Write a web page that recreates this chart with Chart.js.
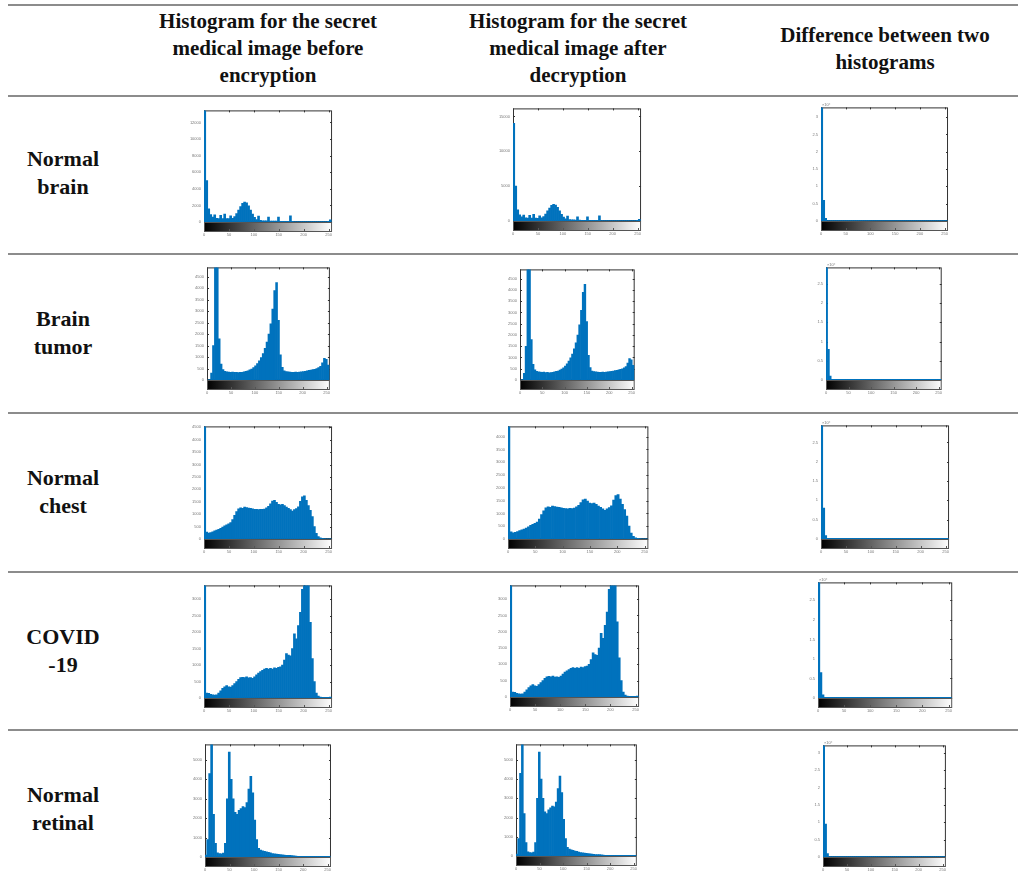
<!DOCTYPE html>
<html>
<head>
<meta charset="utf-8">
<script src="https://cdn.jsdelivr.net/npm/chart.js@4.4.0/dist/chart.umd.min.js"></script>
<style>
  html, body { margin: 0; padding: 0; background: #fff; }
  body { width: 1018px; height: 886px; position: relative; overflow: hidden;
         font-family: "Liberation Serif", "Times New Roman", serif; color: #111; }
  .rule { position: absolute; left: 8px; width: 1010px; height: 2px; background: #8c8c8c; }
  .head { position: absolute; width: 300px; text-align: center; font-weight: bold;
          font-size: 21px; line-height: 27px; }
  .rowlab { position: absolute; left: 0; width: 126px; text-align: center; font-weight: bold;
            font-size: 22px; line-height: 28px; }
  .cell { position: absolute; }
</style>
</head>
<body>

<div class="rule" style="top:4px"></div>
<div class="rule" style="top:95px"></div>
<div class="rule" style="top:253px"></div>
<div class="rule" style="top:412px"></div>
<div class="rule" style="top:571px"></div>
<div class="rule" style="top:729px"></div>

<div class="head" style="left:118px; top:8px">Histogram for the secret<br>medical image before<br>encryption</div>
<div class="head" style="left:428px; top:8px">Histogram for the secret<br>medical image after<br>decryption</div>
<div class="head" style="left:735px; top:22px">Difference between two<br>histograms</div>

<div id="charts"></div>

<script>
// bin start values (4 grey levels per bin)
const binStart = [0,4,8,12,16,20,24,28,32,36,40,44,48,52,56,60,64,68,72,76,80,84,88,92,96,100,104,108,112,116,120,124,
  128,132,136,140,144,148,152,156,160,164,168,172,176,180,184,188,192,196,200,204,208,212,216,220,224,228,232,236,240,244,248,252];

const rowNames = [["Normal", "brain"], ["Brain", "tumor"], ["Normal", "chest"], ["COVID", "-19"], ["Normal", "retinal"]];

// pixel counts per bin
const brainHist = [14000,5000,1600,900,600,850,450,420,800,420, 950,420,400,750,450,650,1000,1450,1850,2250,
  2400,2300,1950,1450,950,550,300,700,200,150, 150,130,600,120,110,100,100,600,90,90,
  80,80,80,750,70,60,60,60,55,55, 50,50,50,50,50,50,50,50,50,50, 50,60,80,250];
const tumorHist = [0,20,300,1500,5200,5200,1800,700,450,380, 360,350,340,350,330,340,320,330,340,360,
  380,400,440,480,540,620,720,840,980,1150, 1380,1650,2000,2450,3100,3900,4250,2600,1100,550,
  400,370,360,350,340,340,350,340,350,360, 370,380,400,420,430,450,470,500,540,600, 750,950,900,650];
const chestHist = [4800,280,240,260,290,330,360,390,430,480, 530,570,610,660,780,950,1100,1220,1260,1240,
  1290,1270,1250,1240,1220,1200,1190,1180,1200,1190, 1210,1260,1320,1420,1530,1560,1480,1400,1380,1400,
  1350,1290,1240,1180,1120,1180,1230,1300,1520,1700, 1740,1560,1350,1150,900,500,230,100,50,30, 15,10,5,5];
const covidHist = [3600,150,140,110,100,90,100,150,220,290, 340,380,340,330,380,440,500,570,620,630,
  620,640,610,620,600,640,700,760,800,840, 880,900,880,900,880,920,900,930,950,1000,
  1150,1350,1300,1280,1500,1950,1800,2200,2600,3300, 3600,3600,3600,2300,1200,500,150,60,25,20, 20,20,20,30];
const retinalHist = [100,900,4300,6000,2200,700,220,180,160,200, 700,3000,5400,4000,3000,2300,2200,2400,2500,2600,
  2550,2800,3500,4150,3300,1900,900,450,360,320, 290,260,240,210,180,160,150,140,120,110,
  100,90,80,80,70,60,50,40,30,30, 30,30,30,30,30,30,30,30,30,30, 30,30,30,40];

// difference histograms
const brainDiff = [34000,6000,800,150,150,150,150,150,150,150,150,150,150,150,150,150,150,150,150,150,150,150,
  150,150,150,150,150,150,150,150,150,150,150,150,150,150,150,150,150,150,150,150,150,150,150,150,150,150,150,150,
  150,150,150,150,150,150,150,150,150,150,150,150,150,150];
const tumorDiff = [30000,8000,1000,150,150,150,150,150,150,150,150,150,150,150,150,150,150,150,150,150,150,150,
  150,150,150,150,150,150,150,150,150,150,150,150,150,150,150,150,150,150,150,150,150,150,150,150,150,150,150,150,
  150,150,150,150,150,150,150,150,150,150,150,150,150,150];
const chestDiff = [30000,8000,900,150,150,150,150,150,150,150,150,150,150,150,150,150,150,150,150,150,150,150,
  150,150,150,150,150,150,150,150,150,150,150,150,150,150,150,150,150,150,150,150,150,150,150,150,150,150,150,150,
  150,150,150,150,150,150,150,150,150,150,150,150,150,150];
const covidDiff = [30000,6500,800,150,150,150,150,150,150,150,150,150,150,150,150,150,150,150,150,150,150,150,
  150,150,150,150,150,150,150,150,150,150,150,150,150,150,150,150,150,150,150,150,150,150,150,150,150,150,150,150,
  150,150,150,150,150,150,150,150,150,150,150,150,150,150];
const retinalDiff = [33000,9500,1000,150,150,150,150,150,150,150,150,150,150,150,150,150,150,150,150,150,150,150,
  150,150,150,150,150,150,150,150,150,150,150,150,150,150,150,150,150,150,150,150,150,150,150,150,150,150,150,150,
  150,150,150,150,150,150,150,150,150,150,150,150,150,150];

const histRows = [brainHist, tumorHist, chestHist, covidHist, retinalHist];
const diffRows = [brainDiff, tumorDiff, chestDiff, covidDiff, retinalDiff];

// y-axis limits per row
const yMaxBefore = [13450, 4915, 4535, 3420, 5800];
const yMaxAfter = [16150, 4915, 4400, 3420, 5800];
const yMaxDiff = [32800, 29300, 29400, 29600, 32200];

// tick values
const xTicks = [0, 50, 100, 150, 200, 250];
const brainTicks = [0, 2000, 4000, 6000, 8000, 10000, 12000];
const brainAfterTicks = [0, 5000, 10000, 15000];
const halfThousandTicks = [0, 500, 1000, 1500, 2000, 2500, 3000, 3500, 4000, 4500];
const thousandTicks = [0, 1000, 2000, 3000, 4000, 5000];
const diffTicks = [0, 5000, 10000, 15000, 20000, 25000, 30000];
const ticksBefore = [brainTicks, halfThousandTicks, halfThousandTicks, halfThousandTicks, thousandTicks];
const ticksAfter = [brainAfterTicks, halfThousandTicks, halfThousandTicks, halfThousandTicks, thousandTicks];

// plot boxes [left, top, right, bottom] for each row, 3 columns
const boxes = [
  [[204,109,338,222], [513,107,647,221], [821,106,954,221]],
  [[207,266,336,380], [520,268,641,380], [826,266,948,380]],
  [[204,425,338,539], [508,425,654,539], [821,424,955,539]],
  [[204,584,338,698], [510,584,645,697], [818,581,958,698]],
  [[205,743,337,857], [516,743,643,856], [823,744,952,857]],
];
const rowLabelTop = [145, 305, 464, 623, 781];

const BLUE = "rgb(0,114,189)";
const LEFT_W = 22, BOTTOM_H = 18, PAD_T = 4, PAD_R = 4, BAR_H = 9;

// MATLAB-like frame: box + inward ticks under the bars, colorbar and exponent on top
const matlabAxes = {
  id: "matlabAxes",
  beforeDatasetsDraw(chart) {
    const { ctx, chartArea: a, scales } = chart;
    const xs = scales.x, ys = scales.y;
    ctx.save();
    ctx.lineWidth = 1;
    ctx.strokeStyle = "#333";
    ctx.strokeRect(a.left + 0.5, a.top + 0.5, a.right - a.left - 1, a.bottom - a.top - 1);
    ctx.beginPath();
    xs.ticks.forEach((t) => {
      const px = Math.round(xs.getPixelForValue(t.value)) + 0.5;
      ctx.moveTo(px, a.top); ctx.lineTo(px, a.top + 2);
    });
    ys.ticks.forEach((t) => {
      const py = Math.round(ys.getPixelForValue(t.value)) + 0.5;
      ctx.moveTo(a.left, py); ctx.lineTo(a.left + 2, py);
      ctx.moveTo(a.right, py); ctx.lineTo(a.right - 2, py);
    });
    ctx.stroke();
    ctx.restore();
  },
  afterDatasetsDraw(chart, args, opts) {
    const { ctx, chartArea: a, scales } = chart;
    const xs = scales.x;
    ctx.save();
    const g = ctx.createLinearGradient(a.left, 0, a.right, 0);
    g.addColorStop(0, "#000");
    g.addColorStop(1, "#fff");
    ctx.fillStyle = g;
    ctx.fillRect(a.left, a.bottom, a.right - a.left, BAR_H);
    ctx.lineWidth = 1;
    ctx.strokeStyle = "#555";
    ctx.strokeRect(a.left + 0.5, a.bottom + 0.5, a.right - a.left - 1, BAR_H);
    ctx.beginPath();
    xs.ticks.forEach((t) => {
      const px = Math.round(xs.getPixelForValue(t.value)) + 0.5;
      ctx.moveTo(px, a.bottom + BAR_H); ctx.lineTo(px, a.bottom + BAR_H - 2);
    });
    ctx.stroke();
    if (opts.exponent) {
      ctx.fillStyle = "#777";
      ctx.font = "4px Arial";
      ctx.textBaseline = "bottom";
      ctx.fillText("×10⁴", a.left + 1, a.top - 1);
    }
    ctx.restore();
  },
};

function makeChart(box, values, yMax, yTicks, isDiff) {
  const [l, t, r, b] = box;
  const w = r - l + LEFT_W + PAD_R;
  const h = b - t + BOTTOM_H + PAD_T;
  const div = document.createElement("div");
  div.className = "cell";
  div.style.left = l - LEFT_W + "px";
  div.style.top = t - PAD_T + "px";
  div.style.width = w + "px";
  div.style.height = h + "px";
  const canvas = document.createElement("canvas");
  canvas.width = w;
  canvas.height = h;
  div.appendChild(canvas);
  document.getElementById("charts").appendChild(div);

  new Chart(canvas.getContext("2d"), {
    type: "bar",
    data: {
      datasets: [{
        data: values.map((v, i) => ({ x: binStart[i] + 1.5, y: v })),
        backgroundColor: BLUE,
        borderWidth: 0,
        barPercentage: 1,
        categoryPercentage: 1,
      }],
    },
    plugins: [matlabAxes],
    options: {
      responsive: false,
      animation: false,
      events: [],
      layout: { padding: { top: PAD_T, right: PAD_R, left: 0, bottom: 0 } },
      plugins: {
        legend: { display: false },
        tooltip: { enabled: false },
        matlabAxes: { exponent: isDiff },
      },
      scales: {
        x: {
          type: "linear",
          offset: false,
          min: 0,
          max: 257,
          afterFit: (s) => { s.height = BOTTOM_H; },
          afterBuildTicks: (s) => { s.ticks = xTicks.map((v) => ({ value: v })); },
          grid: { display: false, drawTicks: false },
          border: { display: false },
          ticks: { padding: 10, font: { size: 4, family: "Arial" }, color: "#777", maxRotation: 0, autoSkip: false },
        },
        y: {
          min: 0,
          max: yMax,
          afterFit: (s) => { s.width = LEFT_W; },
          afterBuildTicks: (s) => {
            s.ticks = yTicks.filter((v) => v <= yMax).map((v) => ({ value: v }));
          },
          grid: { display: false, drawTicks: false },
          border: { display: false },
          ticks: {
            padding: 3,
            autoSkip: false,
            font: { size: 4, family: "Arial" },
            color: "#777",
            callback: (v) => (isDiff ? String(v / 10000) : String(v)),
          },
        },
      },
    },
  });
}

rowNames.forEach((name, i) => {
  const lab = document.createElement("div");
  lab.className = "rowlab";
  lab.style.top = rowLabelTop[i] + "px";
  lab.innerHTML = name.join("<br>");
  document.body.appendChild(lab);

  makeChart(boxes[i][0], histRows[i], yMaxBefore[i], ticksBefore[i], false);
  makeChart(boxes[i][1], histRows[i], yMaxAfter[i], ticksAfter[i], false);
  makeChart(boxes[i][2], diffRows[i], yMaxDiff[i], diffTicks, true);
});
</script>
</body>
</html>
